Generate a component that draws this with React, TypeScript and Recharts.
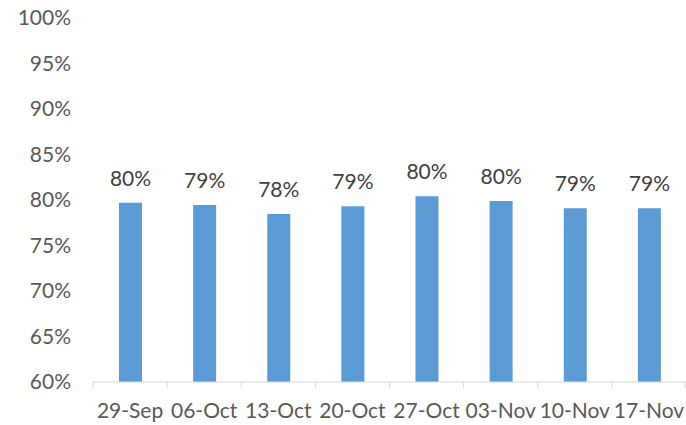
import { Bar, BarChart, LabelList, XAxis, YAxis } from "recharts";

if (typeof document !== "undefined") {
  document.body.style.margin = "0";
}

const weeks = ["29-Sep", "06-Oct", "13-Oct", "20-Oct", "27-Oct", "03-Nov", "10-Nov", "17-Nov"];
const rates = [79.7, 79.45, 78.45, 79.3, 80.4, 79.9, 79.1, 79.1];
const yTicks = [60, 65, 70, 75, 80, 85, 90, 95, 100];

const FONT = "Lato, 'Open Sans', sans-serif";
const AXIS_GRAY = "#D9D9D9";
const BAND = 593 / weeks.length;

function WeekTick(props: any) {
  const { x, y, payload, index } = props;
  const left = x - BAND / 2;
  return (
    <g>
      <line x1={left} y1={y} x2={left} y2={y + 6} stroke={AXIS_GRAY} />
      {index === weeks.length - 1 && (
        <line x1={x + BAND / 2 - 1} y1={y} x2={x + BAND / 2 - 1} y2={y + 6} stroke={AXIS_GRAY} />
      )}
      <text
        x={x}
        y={y + 36}
        textAnchor="middle"
        fill="#595959"
        fontSize={21}
        fontFamily={FONT}
      >
        {payload.value}
      </text>
    </g>
  );
}

export default function App() {
  const data = weeks.map((week, i) => ({ week, rate: rates[i] }));

  return (
    <BarChart
      width={686}
      height={425}
      data={data}
      margin={{ top: 18, right: 0, left: 0, bottom: 0 }}
    >
      <XAxis
        dataKey="week"
        interval={0}
        height={43}
        tickLine={false}
        tickSize={0}
        tickMargin={0}
        axisLine={{ stroke: AXIS_GRAY }}
        tick={<WeekTick />}
      />
      <YAxis
        domain={[60, 100]}
        ticks={yTicks}
        width={93}
        axisLine={false}
        tickLine={false}
        tickSize={0}
        tickMargin={22}
        tickFormatter={(v) => `${v}%`}
        tick={{ fill: "#595959", fontSize: 21, fontFamily: FONT }}
      />
      <Bar dataKey="rate" fill="#5B9BD5" barSize={23} isAnimationActive={false}>
        <LabelList
          dataKey="rate"
          position="top"
          offset={17}
          formatter={(v: any) => `${Math.round(Number(v))}%`}
          fill="#404040"
          fontSize={21}
          fontFamily={FONT}
        />
      </Bar>
    </BarChart>
  );
}
